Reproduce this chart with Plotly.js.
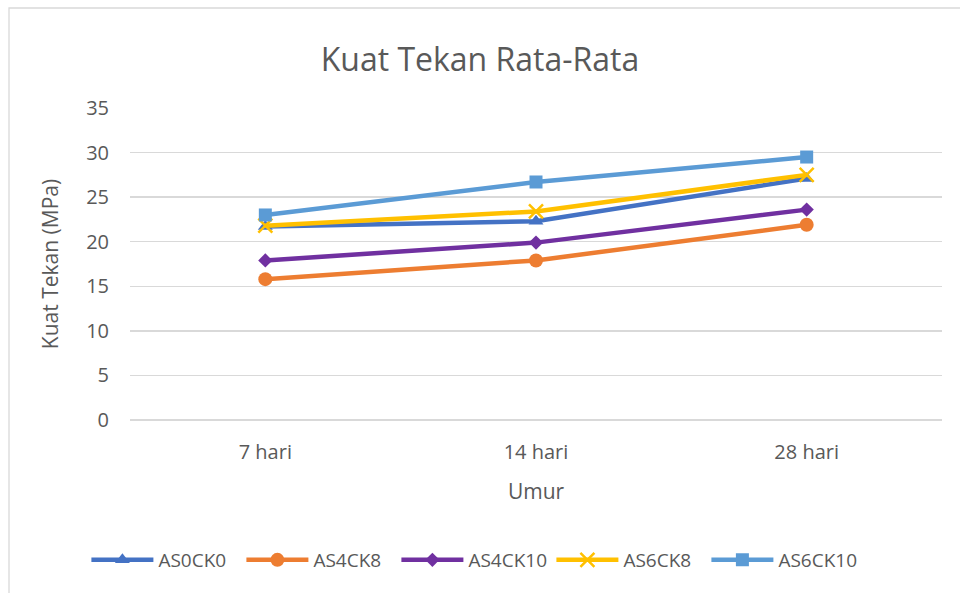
<!DOCTYPE html>
<html>
<head>
<meta charset="utf-8">
<script src="https://cdn.plot.ly/plotly-3.0.1.min.js"></script>
<style>html,body{margin:0;padding:0;background:#fff;}#chart{width:960px;height:593px;}</style>
</head>
<body>
<div id="chart"></div>
<script>
const categories = ["7 hari", "14 hari", "28 hari"];
const seriesNames = ["AS0CK0", "AS4CK8", "AS4CK10", "AS6CK8", "AS6CK10"];
const AS0CK0 = [21.7, 22.3, 27.1];
const AS4CK8 = [15.8, 17.9, 21.9];
const AS4CK10 = [17.9, 19.9, 23.6];
const AS6CK8 = [21.8, 23.4, 27.5];
const AS6CK10 = [23.0, 26.7, 29.5];
const yTicks = [0, 5, 10, 15, 20, 25, 30, 35];

const values = [AS0CK0, AS4CK8, AS4CK10, AS6CK8, AS6CK10];
const colors = ["#4472C4", "#ED7D31", "#7030A0", "#FFC000", "#5B9BD5"];
const symbols = ["triangle-up", "circle", "diamond", "x-thin-open", "square"];
const sizes = [13, 14, 11, 14, 13];

const traces = seriesNames.map((n, i) => ({
  type: "scatter", mode: "lines+markers", name: n,
  x: categories, y: values[i],
  line: {color: colors[i], width: 4.5},
  marker: {symbol: symbols[i], size: sizes[i], color: colors[i],
           line: {color: colors[i], width: i === 3 ? 2.5 : 0}}
}));

const font = "Open Sans, Calibri, sans-serif";
const layout = {
  width: 960, height: 593,
  margin: {l: 130, r: 18, t: 108, b: 173},
  paper_bgcolor: "#fff", plot_bgcolor: "#fff",
  font: {family: font, color: "#595959", size: 20},
  title: {text: "Kuat Tekan Rata-Rata", font: {size: 32, color: "#595959", family: font}, x: 0.5, xanchor: "center", y: 0.9, yanchor: "middle"},
  xaxis: {type: "category", range: [-0.5, 2.5], showgrid: false, zeroline: false,
          showline: false, ticks: "", tickfont: {size: 20, color: "#595959"},
          ticklabelstandoff: 18,
          title: {text: "Umur", font: {size: 21, color: "#595959"}, standoff: 20}},
  yaxis: {range: [0, 35], tickvals: yTicks, showgrid: true, gridcolor: "#D9D9D9", gridwidth: 1.3,
          zeroline: true, zerolinecolor: "#D9D9D9", zerolinewidth: 1.3, showline: false, ticks: "",
          ticklabelstandoff: 20,
          tickfont: {size: 20, color: "#595959"},
          title: {text: "Kuat Tekan (MPa)", font: {size: 21, color: "#595959"}, standoff: 21}},
  legend: {orientation: "h", xref: "container", yref: "container", x: 0.09, xanchor: "left", y: 33/593, yanchor: "middle",
           font: {size: 19, color: "#595959"}, itemwidth: 62, entrywidth: 78, entrywidthmode: "pixels", tracegroupgap: 0},
  shapes: [{type: "rect", xref: "paper", yref: "paper", x0: -0.149, x1: 2, y0: -2, y1: 1.3205,
            line: {color: "#D9D9D9", width: 1.3}, fillcolor: "rgba(0,0,0,0)", layer: "below"}],
  showlegend: true
};
Plotly.newPlot("chart", traces, layout, {displayModeBar: false, staticPlot: true});
</script>
</body>
</html>
